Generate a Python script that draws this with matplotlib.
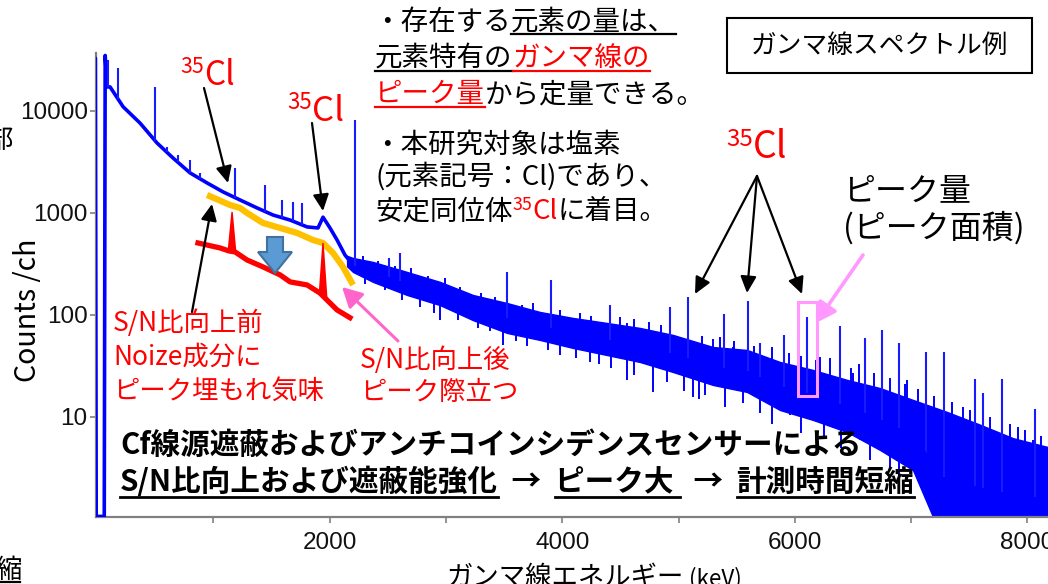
import numpy as np
import matplotlib
matplotlib.use('Agg')
import matplotlib.pyplot as plt
from matplotlib.patches import Polygon, Rectangle, FancyArrowPatch
from matplotlib.lines import Line2D
from matplotlib.ticker import NullLocator

W, H = 1048, 584
JP = ['Noto Sans CJK JP', 'DejaVu Sans']
plt.rcParams['font.family'] = JP

# ---------------- data ----------------
# low-energy part of the spectrum (thin line)
low_E = [-15, -15, -8, 62, 70, 86, 112, 224, 370, 516, 653, 800, 946, 1083,
         1230, 1376, 1513, 1660, 1806, 1900, 1943, 2003, 2064, 2132, 2200]
low_counts = [1.06, 33000, 1.06, 1.06, 35000, 17200, 17200, 11000, 7600, 4850,
              3460, 2470, 1970, 1610, 1340, 1120, 955, 852, 730, 713, 910, 713,
              543, 387, 310]

# high-energy noisy band (upper / lower envelope)
band_E = [2150, 2201, 2373, 2666, 2949, 3233, 3525, 3809, 4093, 4385, 4669,
          4953, 5297, 5589, 5873, 6157, 6449, 6733, 7016, 7309, 7593, 7876,
          8169, 8250]
band_upper = [380, 362, 331, 264, 211, 157, 131, 107, 93.5, 83.5, 74.6, 63.7,
              48.5, 45.4, 34.6, 28.9, 23.1, 19.2, 14.7, 11.2, 8.4, 6.2, 5.1, 4.9]
band_lower = [300, 264, 211, 157, 125, 89, 66.7, 56.9, 47.5, 40.5, 34.6, 27.6,
              20.6, 17.6, 11.7, 9.35, 7.13, 4.75, 3.02, 0.5, 0.5, 0.5, 0.5, 0.5]

# gamma peaks (energy keV, top counts)
peak_E = [95, 181, 499, 602, 697, 800, 886, 1187, 1445, 1591, 1685, 1763, 2218,
          2511, 2605, 3525, 3904, 4411, 4927, 5082, 5391, 5598, 5701, 5907,
          6105, 6389, 6604, 6750, 6896, 7128, 7283, 7549, 7618, 7782, 8065]
peak_counts = [31600, 26500, 17200, 4440, 3700, 3300, 2450, 2760, 1880, 1340,
               1280, 1250, 8200, 363, 408, 263, 220, 125, 120, 150, 102, 137,
               53, 63, 96, 78, 60, 72, 53, 43, 43, 23.5, 17, 23.5, 12]

# small noise spikes and dips inside the band
spike_E = [2290, 2420, 2560, 2700, 2795, 2850, 2990, 3035, 3120, 3300, 3420,
           3650, 3750, 3980, 4150, 4250, 4500, 4557, 4620, 4750, 4850, 5200,
           5300, 5357, 5469, 5480, 5650, 5800, 5950, 6050, 6180, 6217, 6300,
           6480, 6500, 6550, 6680, 6820, 6950, 6965, 7060, 7200, 7350, 7450,
           7506, 7680, 7850, 7919, 7980, 8048, 8120]
spike_counts = [380, 340, 300, 290, 206, 240, 230, 176, 190, 165, 150, 125,
                130, 112, 105, 98, 95, 83.5, 92, 85, 80, 62, 58, 61, 48.5, 55,
                50, 48, 42, 40, 36, 38.7, 38, 30, 27, 33, 27, 24, 21, 23, 19,
                16, 14, 12.5, 11.7, 10, 8.5, 8, 7.5, 6, 6.5]
dip_E = [2300, 2480, 2620, 2780, 2900, 2949, 3100, 3280, 3380, 3491, 3600,
         3700, 3880, 3981, 4120, 4239, 4320, 4420, 4557, 4620, 4781, 4900,
         5050, 5125, 5180, 5228, 5400, 5555, 5700, 5800, 5959, 6050, 6157,
         6250, 6400, 6561, 6650, 6819, 6900, 7077, 7120, 7223]
dip_counts = [200, 175, 140, 120, 105, 89, 90, 75, 70, 51, 55, 50, 45, 40.5,
              38, 34.6, 33, 30, 23, 26, 17.6, 22, 18, 15.7, 15, 16.4, 12.5,
              13.7, 11, 8.5, 10.5, 7, 9.4, 6.5, 5, 6.0, 3.8, 3.2, 2.6, 3.0,
              1.9, 2.4]

# hand-drawn "before" (orange) and "after" (red) sketch curves
orange_E = [946, 1144, 1230, 1290, 1427, 1574, 1720, 1857, 1943, 2029, 2115, 2201]
orange_counts = [1500, 1197, 1119, 1000, 798, 713, 637, 543, 508, 405, 296, 197]
red_E = [868, 1058, 1135, 1187, 1290, 1427, 1574, 1660, 1806, 1917, 1978, 2064, 2175]
red_counts = [508, 454, 424, 415, 346, 296, 247, 211, 197, 164, 140, 112, 94]
red_spike_E = [1161, 1943]
red_spike_top = [1024, 508]

x_ticks = [1000, 2000, 3000, 4000, 5000, 6000, 7000, 8000]
x_labels = ['', '2000', '', '4000', '', '6000', '', '8000']
y_ticks = [10, 100, 1000, 10000]
y_labels = ['10', '100', '1000', '10000']

# ---------------- figure ----------------
fig = plt.figure(figsize=(W / 100, H / 100), dpi=100)
ax = fig.add_axes([96 / W, 1 - 517 / H, (W - 96) / W, (517 - 53) / H])
ax.set_yscale('log')
ax.set_xlim(-9, 8177)
ax.set_ylim(1.046, 37000)

BLUE = '#0000FF'
ax.fill_between(band_E, band_lower, band_upper, color=BLUE, lw=1.0, zorder=2)
ax.plot(low_E, low_counts, color=BLUE, lw=2.6, zorder=3)

center_E = list(low_E[5:]) + list(band_E[2:])
center_c = list(low_counts[5:]) + [np.sqrt(u * l) for u, l in zip(band_upper[2:], band_lower[2:])]
ce = np.array(center_E); cc = np.log10(np.array(center_c))
order = np.argsort(ce)
def base_at(e):
    return 10 ** np.interp(e, ce[order], cc[order])

for e, c in zip(peak_E, peak_counts):
    ax.vlines(e, base_at(e), c, color='#1a1aff', lw=1.5, zorder=3)
for e, c in zip(spike_E, spike_counts):
    ax.vlines(e, base_at(e), c, color=BLUE, lw=1.4, zorder=3)
for e, c in zip(dip_E, dip_counts):
    ax.vlines(e, c, base_at(e), color=BLUE, lw=1.4, zorder=3)

# sketch curves
ax.plot(orange_E, orange_counts, color='#FFC000', lw=4.5, zorder=5,
        solid_capstyle='butt')
ax.plot(red_E, red_counts, color='#FF0000', lw=3.8, zorder=5)
for e, t in zip(red_spike_E, red_spike_top):
    b = 10 ** np.interp(e, red_E, np.log10(red_counts))
    ax.add_patch(Polygon([(e - 38, b * 1.03), (e - 6, t), (e + 6, t), (e + 38, b * 0.97)],
                         closed=True, color='#FF0000', zorder=5, lw=0))

# axes styling
for s in ['top', 'right']:
    ax.spines[s].set_visible(False)
for s in ['left', 'bottom']:
    ax.spines[s].set_color('#808080')
    ax.spines[s].set_linewidth(1.6)
ax.set_xticks(x_ticks)
ax.set_xticklabels(x_labels)
ax.set_yticks(y_ticks)
ax.set_yticklabels(y_labels)
ax.yaxis.set_minor_locator(NullLocator())
ax.xaxis.set_minor_locator(NullLocator())
ax.tick_params(axis='both', direction='out', length=4, width=1.2, color='#808080',
               labelsize=17.5, labelcolor='#111111')
ax.tick_params(axis='x', pad=7)
ax.tick_params(axis='y', pad=2)
for lab in ax.get_xticklabels() + ax.get_yticklabels():
    lab.set_family(['Liberation Sans', 'DejaVu Sans'])

def P(x, y):
    return (x / W, 1 - y / H)

renderer = fig.canvas.get_renderer()

def put_line(x, y, segs, size, weight='normal', ul_y=None, ul_lw=1.6):
    cur = x
    for seg in segs:
        text, color, ul = seg[0], seg[1], seg[2]
        scale = seg[3] if len(seg) > 3 else 1.0
        dy = seg[4] if len(seg) > 4 else 0
        t = fig.text(cur / W, 1 - (y + dy) / H, text, color=color,
                     fontsize=size * scale, fontweight=weight, ha='left',
                     va='baseline', family=JP)
        bb = t.get_window_extent(renderer)
        x1 = bb.x1
        if ul:
            fig.add_artist(Line2D([cur / W, x1 / W], [1 - ul_y / H] * 2,
                                  color=color, lw=ul_lw, transform=fig.transFigure))
        cur = x1
    return cur

def arrow(x0, y0, x1, y1, color='k', lw=1.6, hl=0.5, hw=0.24, ms=20):
    a = FancyArrowPatch(P(x0, y0), P(x1, y1), transform=fig.transFigure,
                        arrowstyle=f'-|>,head_length={hl},head_width={hw}',
                        mutation_scale=ms, color=color, lw=lw,
                        shrinkA=0, shrinkB=0, zorder=6)
    fig.add_artist(a)

# axis titles
fig.text(*P(28, 310), 'Counts /ch', rotation=90, fontsize=20.5, ha='center',
         va='center', color='black')
put_line(447, 585, [('ガンマ線エネルギー', 'black', False),
                    (' (keV)', 'black', False, 0.85)], 19)

# cut-off slide fragments at left edge
fig.text(*P(-13, 148), '部', fontsize=19, ha='left', va='baseline')
fig.text(*P(22, 578), '縮', fontsize=19, ha='right', va='baseline')
fig.add_artist(Line2D([0, 20 / W], [1 - 582 / H] * 2, color='black', lw=1.6,
                      transform=fig.transFigure))

# top text block
RED = '#FF0000'
TS = 19.8
put_line(373, 30, [('・存在する', 'black', False), ('元素の量は、', 'black', True)], TS, ul_y=34)
put_line(375, 66, [('元素特有の', 'black', True), ('ガンマ線の', RED, True)], TS, ul_y=70.5)
put_line(375, 102, [('ピーク量', RED, True), ('から定量できる。', 'black', False)], TS, ul_y=107)
put_line(373, 153, [('・本研究対象は塩素', 'black', False)], TS)
put_line(375, 185, [('(元素記号：Cl)であり、', 'black', False)], TS)
put_line(375, 219, [('安定同位体', 'black', False), ('35', RED, False, 0.65, -9),
                    ('Cl', RED, False), ('に着目。', 'black', False)], TS)

# title box
fig.add_artist(Rectangle(P(727, 73), 305 / W, 55 / H, transform=fig.transFigure,
                         fill=False, ec='black', lw=1.5))
fig.text(*P(879.5, 46), 'ガンマ線スペクトル例', fontsize=18.5, ha='center', va='center')

# 35Cl labels
for (x, yb, sz) in [(180, 85, 24), (287, 121, 25), (726, 158, 27)]:
    put_line(x, yb, [('35', RED, False, 0.64, -12), ('Cl', RED, False)], sz)

# peak amount label
put_line(843, 200, [('ピーク量', 'black', False)], 23)
put_line(843, 238, [('(ピーク面積)', 'black', False)], 23)

# red explanatory texts
RS = 19
put_line(113, 331, [('S/N比向上前', RED, False)], RS)
put_line(113, 365, [('Noize成分に', RED, False)], RS)
put_line(113, 399, [('ピーク埋もれ気味', RED, False)], RS)
put_line(360, 368, [('S/N比向上後', RED, False)], RS)
put_line(360, 400, [('ピーク際立つ', RED, False)], RS)

# bottom bold text
BS = 21.3
put_line(120, 454, [('Cf線源遮蔽およびアンチコインシデンスセンサーによる', 'black', False)],
         BS, weight='bold')
put_line(120, 491, [('S/N比向上および遮蔽能強化', 'black', True), ('  →  ', 'black', False),
                    ('ピーク大 ', 'black', True), ('  →  ', 'black', False),
                    ('計測時間短縮', 'black', True)], BS, weight='bold', ul_y=497, ul_lw=2)

# arrows
arrow(204, 88, 228, 183)
arrow(312, 123, 323, 211)
arrow(757, 176, 695, 294)
arrow(757, 176, 747, 293)
arrow(757, 176, 802, 294)
arrow(192, 312, 212, 204)
PINK = '#FF66CC'
arrow(398, 341, 342, 287, color=PINK, lw=2.2, hl=0.6, hw=0.32)
arrow(863, 255, 816, 323, color='#FF99FF', lw=2.6, hl=0.6, hw=0.32)

# pink box around peak
fig.add_artist(Rectangle(P(798, 396), 19 / W, 94 / H, transform=fig.transFigure,
                         fill=False, ec='#FF99FF', lw=2.2, zorder=6))

# blue block arrow
blk = [(267, 237), (283, 237), (283, 252), (292, 252), (275, 273), (258, 252), (267, 252)]
fig.add_artist(Polygon([P(x, y) for x, y in blk], closed=True, transform=fig.transFigure,
                       fc='#5B9BD5', ec='#41719C', lw=1.5, zorder=6))

fig.savefig('out.png', dpi=100)
